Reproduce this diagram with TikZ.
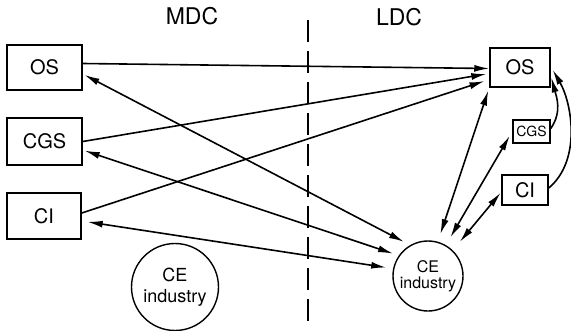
\documentclass[tikz,border=0pt]{standalone}
\usepackage{fontspec}
\setmainfont{TeX Gyre Heros}
\usetikzlibrary{arrows.meta}
\tikzstyle{box}=[rectangle,draw=black,line width=1.5pt,inner sep=0pt,
  font=\fontsize{20}{24}\selectfont]
\tikzstyle{ce}=[circle,draw=black,line width=1.4pt,inner sep=0pt,align=center]
\tikzstyle{lbl}=[font=\fontsize{23}{27}\selectfont]
\tikzstyle{link}=[line width=1.6pt,-{Latex[length=15pt,width=7pt]}]
\tikzstyle{both}=[line width=1.6pt,{Latex[length=15pt,width=7pt]}-{Latex[length=15pt,width=7pt]}]
\tikzstyle{none}=[]
\begin{document}
\begin{tikzpicture}[x=1pt,y=-1pt]
            \useasboundingbox (0,0) rectangle (571,330);
            \node [style=lbl] (mdc) at (192, 16) {MDC};
            \node [style=lbl] (ldc) at (399, 17) {LDC};
            \coordinate (top) at (308, 20);
            \coordinate (bot) at (308, 325);
            \node [style=box,minimum width=75pt,minimum height=45pt] (osl) at (44.5, 67.5) {OS};
            \node [style=box,minimum width=75pt,minimum height=47pt] (cgsl) at (44.5, 141.5) {CGS};
            \node [style=box,minimum width=74pt,minimum height=46pt] (cil) at (44, 216) {CI};
            \node [style=ce,minimum size=87pt,font=\fontsize{18}{21}\selectfont] (cel) at (175, 287) {CE\\industry};
            \node [style=box,minimum width=60pt,minimum height=39pt] (osr) at (520, 67.5) {OS};
            \node [style=box,minimum width=37pt,minimum height=23pt,font=\fontsize{14}{16}\selectfont] (cgsr) at (531.5, 131.5) {CGS};
            \node [style=box,minimum width=46pt,minimum height=30pt] (cir) at (525, 190) {CI};
            \node [style=ce,minimum size=70pt,font=\fontsize{16}{16}\selectfont] (cer) at (428, 276) {CE\\industry};
            \draw [line width=1.5pt,dash pattern=on 22pt off 9pt] (top) -- (bot);
            \draw [style=link] ([yshift=4pt]osl.east) to ([yshift=-1pt]osr.west);
            \draw [style=link,shorten >=3pt] (cgsl.east) to ([yshift=-6pt]osr.west);
            \draw [style=link,shorten >=5pt] ([yshift=3pt]cil.east) to ([yshift=-12pt]osr.west);
            \draw [style=both,shorten <=2pt,shorten >=7pt] ([yshift=-6.5pt]osl.east) to (cer.120);
            \draw [style=both,shorten <=2pt,shorten >=6pt] ([yshift=-8.5pt]cgsl.east) to (cer.145);
            \draw [style=both,shorten <=6pt,shorten >=7pt] ([yshift=-5pt]cil.east) to (cer.168);
            \draw [style=both,shorten <=8pt,shorten >=3pt] (cer.74) to (osr.south west);
            \draw [style=both,shorten <=9pt,shorten >=5pt] (cer.60) to (cgsr.west);
            \draw [style=both,shorten <=11pt,shorten >=1pt] (cer.46) to ([yshift=-2pt]cir.west);
            \draw [style=link,shorten >=2pt] ([yshift=3pt]cgsr.east) to [out=55,in=-75] ([yshift=-8pt]osr.east);
            \draw [style=link,shorten >=4pt] ([yshift=2pt]cir.east) to [out=40,in=-60,looseness=0.9] ([yshift=1pt]osr.east);
    \end{tikzpicture}
\end{document}
